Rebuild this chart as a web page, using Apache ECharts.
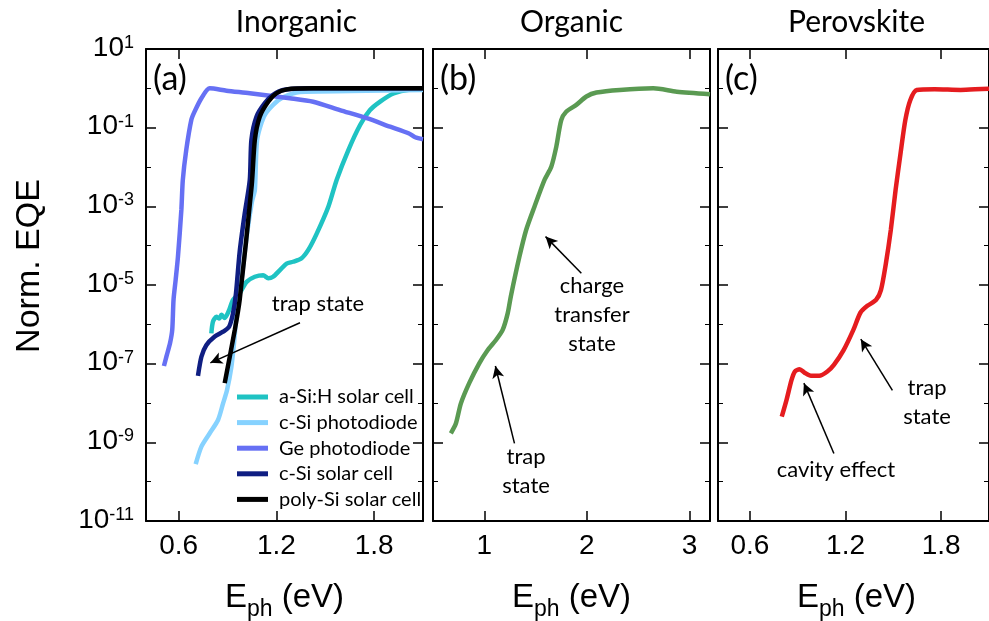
<!DOCTYPE html>
<html>
<head>
<meta charset="utf-8">
<script src="https://cdn.jsdelivr.net/npm/echarts@6/dist/echarts.min.js"></script>
<style>
  html, body { margin: 0; padding: 0; background: #ffffff; }
  #chart { width: 989px; height: 621px; }
</style>
</head>
<body>
<div id="chart"></div>
<script>
// ---- panel text ----
const panelTitles = ['Inorganic', 'Organic', 'Perovskite'];
const panelTags = ['(a)', '(b)', '(c)'];

// ---- axis ticks ----
const yMajorTicks = [1e1, 1e-1, 1e-3, 1e-5, 1e-7, 1e-9, 1e-11];
const yMinorTicks = [1e0, 1e-2, 1e-4, 1e-6, 1e-8, 1e-10];
const xTicksInorganic = [0.6, 1.2, 1.8];
const xTicksOrganic = [1, 2, 3];
const xTicksPerovskite = [0.6, 1.2, 1.8];

// ---- (a) inorganic devices: photon energy (eV) and normalised EQE ----
const aSiH_E = [0.801, 0.811, 0.832, 0.85, 0.863, 0.883, 0.91, 0.934, 0.975, 1.017, 1.068, 1.119, 1.15, 1.18, 1.222, 1.263, 1.303, 1.355, 1.396, 1.447, 1.519, 1.57, 1.642, 1.714, 1.775, 1.837, 1.919, 2.022, 2.1];
const aSiH_EQE = [5.9e-7, 1.17e-6, 1.55e-6, 1.4e-6, 1.74e-6, 1.45e-6, 2.3e-6, 4.2e-6, 6.2e-6, 1.2e-5, 1.62e-5, 1.78e-5, 1.48e-5, 1.62e-5, 2.4e-5, 3.5e-5, 3.9e-5, 4.8e-5, 7.8e-5, 2.0e-4, 9.8e-4, 4.7e-3, 0.027, 0.117, 0.28, 0.46, 0.74, 0.93, 0.95];

const cSiPD_E = [0.705, 0.74, 0.791, 0.842, 0.873, 0.897, 0.924, 0.94, 0.955, 0.985, 1.02, 1.05, 1.068, 1.082, 1.123, 1.18, 1.242, 1.345, 1.652, 2.1];
const cSiPD_EQE = [2.8e-10, 7.8e-10, 1.7e-9, 3.7e-9, 9.8e-9, 2.1e-8, 8.3e-8, 3.3e-7, 1.55e-6, 1.2e-5, 2.0e-4, 1.3e-3, 2.6e-3, 0.049, 0.19, 0.38, 0.59, 0.81, 0.85, 0.91];

const gePD_E = [0.51, 0.526, 0.548, 0.561, 0.569, 0.582, 0.596, 0.617, 0.626, 0.647, 0.678, 0.698, 0.74, 0.791, 0.894, 1.037, 1.283, 1.426, 1.59, 1.755, 1.898, 2.011, 2.052, 2.1];
const gePD_EQE = [8.7e-8, 1.55e-7, 3.4e-7, 7.2e-7, 4.2e-6, 1.35e-5, 5.2e-5, 8.1e-4, 4.7e-3, 0.027, 0.157, 0.255, 0.56, 1.0, 0.87, 0.75, 0.56, 0.457, 0.28, 0.174, 0.106, 0.072, 0.057, 0.051];

const cSiSC_E = [0.719, 0.74, 0.77, 0.822, 0.873, 0.91, 0.934, 0.952, 0.975, 1.006, 1.037, 1.047, 1.078, 1.129, 1.18, 1.242, 1.4, 2.1];
const cSiSC_EQE = [4.9e-8, 1.5e-7, 2.95e-7, 4.9e-7, 6.5e-7, 8.7e-7, 1.9e-6, 6.0e-6, 7.0e-5, 6.6e-4, 4.7e-3, 0.049, 0.19, 0.42, 0.68, 0.91, 1.0, 1.0];

const polySi_E = [0.883, 0.945, 0.975, 1.049, 1.068, 1.098, 1.15, 1.201, 1.263, 1.425, 1.8, 2.1];
const polySi_EQE = [3.2e-8, 7.2e-7, 4.2e-6, 3.5e-3, 0.049, 0.19, 0.457, 0.75, 0.94, 1.0, 1.0, 1.0];

// ---- (b) organic cell ----
const organic_E = [0.674, 0.723, 0.772, 0.853, 0.951, 1.032, 1.114, 1.179, 1.228, 1.259, 1.342, 1.408, 1.489, 1.587, 1.653, 1.702, 1.75, 1.8, 1.897, 1.995, 2.093, 2.321, 2.647, 2.876, 3.2];
const organic_EQE = [1.7e-9, 3.0e-9, 9.8e-9, 3.2e-8, 1.02e-7, 2.2e-7, 4.0e-7, 7.2e-7, 1.9e-6, 5.2e-6, 5.2e-5, 2.5e-4, 9.8e-4, 4.7e-3, 0.0102, 0.033, 0.155, 0.257, 0.38, 0.62, 0.78, 0.91, 1.0, 0.82, 0.71];

// ---- (c) perovskite cell ----
const perovskite_E = [0.8, 0.83, 0.861, 0.882, 0.912, 0.943, 0.983, 1.035, 1.086, 1.127, 1.188, 1.249, 1.294, 1.337, 1.392, 1.422, 1.453, 1.484, 1.514, 1.545, 1.575, 1.606, 1.647, 1.759, 1.922, 2.055, 2.1];
const perovskite_EQE = [4.5e-9, 1.2e-8, 3.8e-8, 6.3e-8, 7.2e-8, 5.9e-8, 4.9e-8, 4.9e-8, 6.3e-8, 9.3e-8, 2.2e-7, 7.2e-7, 2.0e-6, 2.95e-6, 4.2e-6, 7.4e-6, 3.5e-5, 2.5e-4, 2.6e-3, 0.022, 0.155, 0.5, 0.91, 0.95, 0.91, 0.96, 0.97];

// ---- annotation arrows (tail -> head, in data coordinates) ----
const arrowsInorganic = [[[1.345, 1.1e-6], [0.795, 1.05e-7]]];
const arrowsOrganic = [[[1.946, 2.0e-5], [1.597, 1.7e-4]], [[1.294, 9.4e-10], [1.108, 8.7e-8]]];
const arrowsPerovskite = [[[1.127, 5.2e-10], [0.939, 3.2e-8]], [[1.494, 2.1e-8], [1.296, 4.2e-7]]];

// ------------------------------------------------------------------
const FONT_NUM = "'Liberation Sans', Arial, sans-serif";
const FONT_TXT = "Lato, 'Open Sans', sans-serif";

const zip = (xs, ys) => xs.map((x, i) => [x, ys[i]]);

const grids = [
  { left: 146, top: 49, width: 277, height: 472 },
  { left: 433, top: 49, width: 277, height: 472 },
  { left: 718, top: 49, width: 277, height: 472 }
];
const xRanges = [[0.4, 2.1], [0.5, 3.2], [0.4, 2.1]];
const xTickSets = [xTicksInorganic, xTicksOrganic, xTicksPerovskite];

const xAxes = [];
const yAxes = [];
grids.forEach((g, gi) => {
  const ticks = xTickSets[gi];
  const common = {
    gridIndex: gi, type: 'value', min: xRanges[gi][0], max: xRanges[gi][1],
    splitLine: { show: false },
    axisLine: { show: true, onZero: false, lineStyle: { color: '#000', width: 2 } },
    axisTick: { show: true, inside: true, length: 10, customValues: ticks, lineStyle: { color: '#000', width: 1.5 } }
  };
  // bottom axis with labels
  xAxes.push(Object.assign({}, common, {
    position: 'bottom',
    axisLabel: {
      show: true, customValues: ticks, margin: 11, color: '#000',
      fontSize: 28, fontFamily: FONT_NUM,
      formatter: v => String(v)
    }
  }));
  // top axis: ticks only
  xAxes.push(Object.assign({}, common, { position: 'top', axisLabel: { show: false } }));

  const yCommon = {
    gridIndex: gi, type: 'log', logBase: 10, min: 1e-11, max: 10,
    splitLine: { show: false }
  };
  // left major (labels on first panel)
  yAxes.push(Object.assign({}, yCommon, {
    position: 'left',
    axisLine: { show: true, onZero: false, lineStyle: { color: '#000', width: 2 } },
    axisTick: { show: true, inside: true, length: 10, customValues: yMajorTicks, lineStyle: { color: '#000', width: 1.5 } },
    axisLabel: {
      show: gi === 0, customValues: yMajorTicks, margin: 12,
      formatter: v => '{b|10}{s|' + Math.round(Math.log10(v)) + '}',
      rich: {
        b: { fontSize: 28, fontFamily: FONT_NUM, color: '#000', lineHeight: 30, verticalAlign: 'top' },
        s: { fontSize: 18, fontFamily: FONT_NUM, color: '#000', lineHeight: 16, verticalAlign: 'top' }
      }
    }
  }));
  // left minor
  yAxes.push(Object.assign({}, yCommon, {
    position: 'left',
    axisLine: { show: false },
    axisTick: { show: true, inside: true, length: 5, customValues: yMinorTicks, lineStyle: { color: '#000', width: 1 } },
    axisLabel: { show: false }
  }));
  // right major
  yAxes.push(Object.assign({}, yCommon, {
    position: 'right',
    axisLine: { show: true, onZero: false, lineStyle: { color: '#000', width: 2 } },
    axisTick: { show: true, inside: true, length: 10, customValues: yMajorTicks, lineStyle: { color: '#000', width: 1.5 } },
    axisLabel: { show: false }
  }));
  // right minor
  yAxes.push(Object.assign({}, yCommon, {
    position: 'right',
    axisLine: { show: false },
    axisTick: { show: true, inside: true, length: 5, customValues: yMinorTicks, lineStyle: { color: '#000', width: 1 } },
    axisLabel: { show: false }
  }));
});

function curve(name, gi, xs, ys, color) {
  return {
    name: name, type: 'line', xAxisIndex: gi * 2, yAxisIndex: gi * 4,
    data: zip(xs, ys), showSymbol: false, symbol: 'none', smooth: 0.25,
    lineStyle: { color: color, width: 4.5 }, itemStyle: { color: color },
    clip: true, z: 3
  };
}

function arrowSeries(gi, list) {
  return {
    name: 'arrows-' + gi, type: 'line', xAxisIndex: gi * 2, yAxisIndex: gi * 4,
    data: [], silent: true,
    markLine: {
      silent: true, animation: false,
      symbol: ['none', 'arrow'], symbolSize: [9, 12],
      label: { show: false },
      lineStyle: { color: '#000', width: 1.5, type: 'solid' },
      data: list.map(a => [{ coord: a[0] }, { coord: a[1] }])
    }
  };
}

const series = [
  curve('a-Si:H solar cell', 0, aSiH_E, aSiH_EQE, '#1fc3c3'),
  curve('c-Si photodiode', 0, cSiPD_E, cSiPD_EQE, '#86d2ff'),
  curve('Ge photodiode', 0, gePD_E, gePD_EQE, '#6670f4'),
  curve('c-Si solar cell', 0, cSiSC_E, cSiSC_EQE, '#0f1e82'),
  curve('poly-Si solar cell', 0, polySi_E, polySi_EQE, '#000000'),
  curve('Organic', 1, organic_E, organic_EQE, '#5a9a52'),
  curve('Perovskite', 2, perovskite_E, perovskite_EQE, '#e51c1f'),
  arrowSeries(0, arrowsInorganic),
  arrowSeries(1, arrowsOrganic),
  arrowSeries(2, arrowsPerovskite)
];

const txt = (text, x, y, size, align, family) => ({
  type: 'text', x: x, y: y, silent: true,
  style: { text: text, fontSize: size, fontFamily: family || FONT_TXT, fill: '#000', align: align || 'center', verticalAlign: 'middle', lineHeight: 29 }
});

// measure text widths so the subscripted axis title can be laid out piecewise
const measureCtx = document.createElement('canvas').getContext('2d');
function textWidth(s, size) {
  measureCtx.font = size + 'px ' + FONT_NUM;
  return measureCtx.measureText(s).width;
}

const NAME_SIZE = 33, SUB_SIZE = 23;
const graphics = [];
grids.forEach((g, gi) => {
  const cx = g.left + g.width / 2;
  graphics.push(txt(panelTitles[gi], cx + (gi === 0 ? 12 : 0), 22, 30));
  graphics.push(txt(panelTags[gi], g.left + 7, 79, 34, 'left'));
  // x-axis title: E_ph (eV)
  const wE = textWidth('E', NAME_SIZE), wS = textWidth('ph', SUB_SIZE), wR = textWidth(' (eV)', NAME_SIZE);
  const x0 = cx - (wE + wS + wR) / 2;
  graphics.push(txt('E', x0, 598, NAME_SIZE, 'left', FONT_NUM));
  graphics.push(txt('ph', x0 + wE, 610, SUB_SIZE, 'left', FONT_NUM));
  graphics.push(txt(' (eV)', x0 + wE + wS, 598, NAME_SIZE, 'left', FONT_NUM));
});
graphics.push(txt('trap state', 318, 304, 22));
graphics.push(txt('charge\ntransfer\nstate', 592, 315, 22));
graphics.push(txt('trap\nstate', 526, 471, 22));
graphics.push(txt('cavity effect', 836, 470, 22));
graphics.push(txt('trap\nstate', 927, 402, 22));
graphics.push({
  type: 'text', x: 30, y: 266, rotation: Math.PI / 2, silent: true,
  style: { text: 'Norm. EQE', fontSize: 34, fontFamily: FONT_NUM, fill: '#000', align: 'center', verticalAlign: 'middle' }
});

const option = {
  animation: false,
  backgroundColor: '#ffffff',
  grid: grids.map(g => Object.assign({ show: false, containLabel: false }, g)),
  xAxis: xAxes,
  yAxis: yAxes,
  legend: {
    data: ['a-Si:H solar cell', 'c-Si photodiode', 'Ge photodiode', 'c-Si solar cell', 'poly-Si solar cell'],
    orient: 'vertical', left: 237, top: 387, padding: 0,
    icon: 'rect', itemWidth: 31, itemHeight: 5, itemGap: 5.6,
    selectedMode: false,
    textStyle: { fontSize: 20, fontFamily: FONT_TXT, color: '#000', lineHeight: 20, padding: [0, 0, 0, 6] }
  },
  series: series,
  graphic: graphics
};

const chart = echarts.init(document.getElementById('chart'));
chart.setOption(option);
</script>
</body>
</html>
